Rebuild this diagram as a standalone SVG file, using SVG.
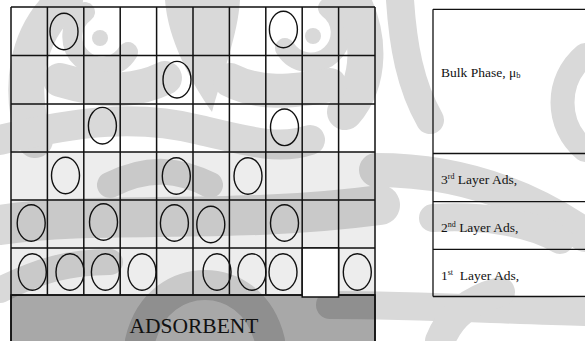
<svg xmlns="http://www.w3.org/2000/svg" width="585" height="341" viewBox="0 0 585 341">
<style>
.wm{fill:none;stroke:#d9d9d9;stroke-linecap:round}
.wf{fill:#d9d9d9}
.grid{stroke:#111;stroke-width:1.5;fill:none}
.p{fill:none;stroke:#111;stroke-width:1.4}
.box{fill:none;stroke:#111;stroke-width:1.3}
.t{font-family:"Liberation Serif","Times New Roman",serif;fill:#111}
</style>
<rect width="585" height="341" fill="#fff"/>
<g id="watermark">
<path class="wm" stroke-width="20" d="M85 12 A30 30 0 1 0 128 52"/>
<circle class="wf" cx="100" cy="38" r="8"/>
<path class="wm" stroke-width="20" d="M328 8 A30 30 0 1 1 285 48"/>
<circle class="wf" cx="313" cy="36" r="8"/>
<path class="wm" stroke-width="36" d="M35 140 C18 90 25 35 65 0"/>
<path class="wf" d="M165 0 C168 40 190 80 212 112 C222 75 238 35 240 0 Z"/>
<path class="wm" stroke-width="36" d="M352 0 C370 35 372 80 345 112"/>
<path class="wm" stroke-width="34" d="M60 80 C110 95 140 90 165 78"/>
<path class="wm" stroke-width="34" d="M230 80 C260 95 290 92 330 85"/>
<path class="wm" stroke-width="30" d="M0 140 C80 120 140 115 200 130 C250 142 280 150 310 140"/>
<path class="wm" stroke-width="40" d="M0 225 C100 210 230 225 380 205"/>
<path class="wm" stroke-width="26" d="M110 185 C150 165 180 170 210 185"/>
<path class="wm" stroke-width="26" d="M0 290 C40 270 70 262 110 262"/>
<path class="wm" stroke-width="30" d="M140 341 C150 300 180 285 205 285 C230 285 260 300 270 341"/>
<path class="wm" stroke-width="28" d="M400 0 C403 45 410 85 430 120"/>
<path class="wm" stroke-width="24" d="M585 55 C555 80 555 125 585 150"/>
<path class="wm" stroke-width="34" d="M376 170 C450 170 520 190 585 235"/>
<path class="wm" stroke-width="28" d="M433 218 C480 215 530 222 560 240"/>
<path class="wm" stroke-width="28" d="M330 305 C420 305 500 310 585 312"/>
<path class="wm" stroke-width="30" d="M440 341 C450 315 470 300 500 292"/>
</g>
<g id="layers">
<rect x="11" y="152" width="364" height="143" fill="#000" fill-opacity="0.07"/>
</g>
<g id="adsorbent">
<rect x="11" y="295" width="364" height="50" fill="#000" fill-opacity="0.34" stroke="#111" stroke-width="1.5"/>
<text class="t" x="194" y="333" font-size="21.5" text-anchor="middle">ADSORBENT</text>
</g>
<g id="grid">
<path class="grid" d="M11 7H375M11 55.5H375M11 104H375M11 152H375M11 200H375M11 248H375M11 295H375M11 7V341M47.4 7V295M83.8 7V295M120.2 7V295M156.6 7V295M193 7V295M229.4 7V295M265.8 7V295M302.2 7V295M338.6 7V295M375 7V341"/>
<rect x="302.2" y="248" width="36.4" height="49" fill="#fff" stroke="#111" stroke-width="1.5"/>
</g>
<g id="particles">
<ellipse class="p" cx="64" cy="31.5" rx="14" ry="18.3"/>
<ellipse class="p" cx="283.4" cy="29.5" rx="14" ry="18.3"/>
<ellipse class="p" cx="177" cy="79.7" rx="14" ry="18.3"/>
<ellipse class="p" cx="102.4" cy="125.7" rx="14" ry="18.3"/>
<ellipse class="p" cx="284.5" cy="127.3" rx="14" ry="18.3"/>
<ellipse class="p" cx="65.5" cy="175.5" rx="14" ry="18.3"/>
<ellipse class="p" cx="176.3" cy="176" rx="14" ry="18.3"/>
<ellipse class="p" cx="248" cy="176" rx="14" ry="18.3"/>
<ellipse class="p" cx="31.2" cy="223" rx="14" ry="18.3"/>
<ellipse class="p" cx="103.5" cy="222" rx="14" ry="18.3"/>
<ellipse class="p" cx="174.4" cy="223" rx="14" ry="18.3"/>
<ellipse class="p" cx="210.8" cy="224.5" rx="14" ry="18.3"/>
<ellipse class="p" cx="284.5" cy="223" rx="14" ry="18.3"/>
<ellipse class="p" cx="32.3" cy="272" rx="14" ry="18.3"/>
<ellipse class="p" cx="70" cy="272" rx="14" ry="18.3"/>
<ellipse class="p" cx="105.4" cy="272" rx="14" ry="18.3"/>
<ellipse class="p" cx="142" cy="272" rx="14" ry="18.3"/>
<ellipse class="p" cx="217" cy="272" rx="14" ry="18.3"/>
<ellipse class="p" cx="251.9" cy="272" rx="14" ry="18.3"/>
<ellipse class="p" cx="283" cy="272" rx="14" ry="18.3"/>
<ellipse class="p" cx="357.3" cy="272" rx="14" ry="18.3"/>
</g>
<g id="phases">
<path class="box" d="M433 9.3H586M433 153.5H586M433 201.7H586M433 249.3H586M433 296.5H586M433 9.3V296.5"/>
<text class="t" x="441" y="77" font-size="13.5">Bulk Phase, μ<tspan font-size="8.5" dy="1">b</tspan></text>
<text class="t" x="441" y="184" font-size="13.5">3<tspan font-size="8" dy="-5">rd</tspan><tspan dy="5"> Layer Ads,</tspan></text>
<text class="t" x="441" y="232" font-size="13.5">2<tspan font-size="8" dy="-5">nd</tspan><tspan dy="5"> Layer Ads,</tspan></text>
<text class="t" x="441" y="280" font-size="13.5">1<tspan font-size="8" dy="-5">st</tspan><tspan dy="5" xml:space="preserve">  Layer Ads,</tspan></text>
</g>
</svg>
